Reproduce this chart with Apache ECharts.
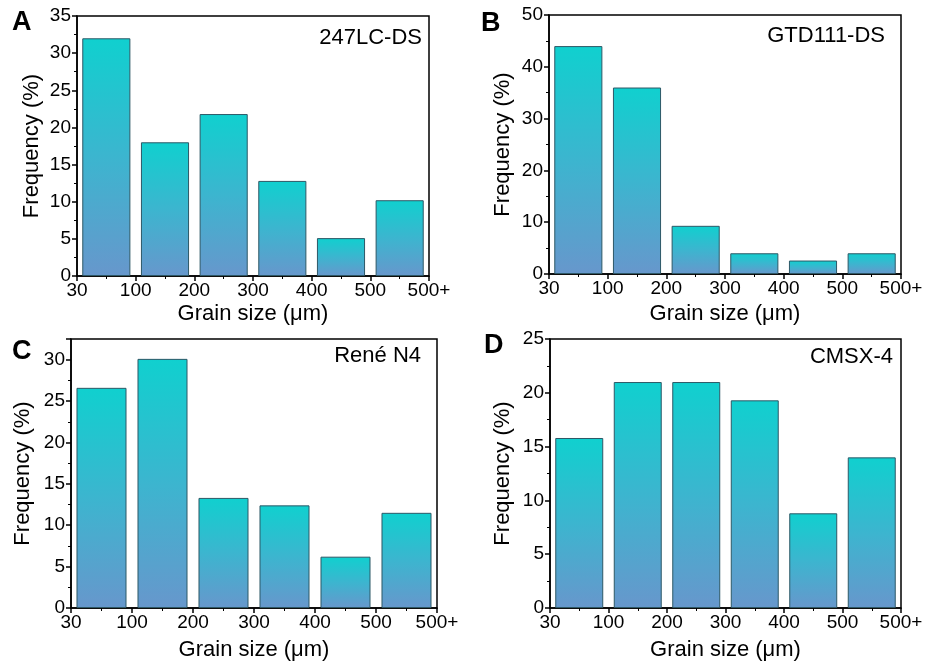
<!DOCTYPE html>
<html>
<head>
<meta charset="utf-8">
<script src="https://cdn.jsdelivr.net/npm/echarts@6/dist/echarts.min.js"></script>
<style>
  html, body { margin: 0; padding: 0; background: #fff; }
  #chart { width: 928px; height: 668px; }
</style>
</head>
<body>
<div id="chart"></div>
<script>
// bin edges shown on the x axis (labels sit on the bar boundaries)
const binEdges = ["30", "100", "200", "300", "400", "500", "500+"];

// frequency (%) per bin
const freq247LC = [32, 18, 21.8, 12.8, 5.1, 10.2];
const freqGTD111 = [44, 36, 9.3, 4.0, 2.6, 4.0];
const freqReneN4 = [26.6, 30.1, 13.3, 12.4, 6.2, 11.5];
const freqCMSX4 = [15.8, 21, 21, 19.3, 8.8, 14];

const panelNames = ["247LC-DS", "GTD111-DS", "René N4", "CMSX-4"];
const panelLetters = ["A", "B", "C", "D"];
const yMax = [35, 50, 32.5, 25];
const yStep = [5, 10, 5, 5];

const FONT = "Liberation Sans";

const chart = echarts.init(document.getElementById("chart"));

const grids = [
  { left: 77, top: 16, width: 352, height: 260 },
  { left: 549, top: 15, width: 352, height: 259 },
  { left: 71, top: 339, width: 366, height: 269 },
  { left: 550, top: 339, width: 351, height: 269 },
];
const yNameGap = [34, 35, 37, 36];
const xNameGap = [27, 29, 31, 31];

const barFill = new echarts.graphic.LinearGradient(0, 0, 0, 1, [
  { offset: 0, color: "#10d0cf" },
  { offset: 0.5, color: "#3cb5cf" },
  { offset: 1, color: "#6797cc" },
]);

let xAxis = [], yAxis = [], series = [];
const allFreq = [freq247LC, freqGTD111, freqReneN4, freqCMSX4];

grids.forEach((g, i) => {
  g.show = true;
  g.borderColor = "#000";
  g.borderWidth = 1.5;
  g.containLabel = false;

  xAxis.push({
    gridIndex: i,
    type: "value",
    min: 0,
    max: 6,
    interval: 1,
    name: "Grain size (μm)",
    nameLocation: "middle",
    nameGap: xNameGap[i],
    nameTextStyle: { fontFamily: FONT, fontSize: 22, color: "#000" },
    axisLine: { show: true, lineStyle: { color: "#000", width: 1.5 } },
    axisTick: { show: true, inside: false, length: 5, lineStyle: { color: "#000", width: 1.5 } },
    minorTick: { show: true, splitNumber: 2, length: 3, lineStyle: { color: "#000", width: 1 } },
    splitLine: { show: false },
    axisLabel: {
      fontFamily: FONT,
      fontSize: 19,
      color: "#000",
      margin: 5,
      formatter: (v) => binEdges[Math.round(v)],
    },
  });

  yAxis.push({
    gridIndex: i,
    type: "value",
    min: 0,
    max: yMax[i],
    interval: yStep[i],
    name: "Frequency (%)",
    nameLocation: "middle",
    nameGap: yNameGap[i],
    nameTextStyle: { fontFamily: FONT, fontSize: 22, color: "#000" },
    axisLine: { show: true, lineStyle: { color: "#000", width: 1.5 } },
    axisTick: { show: true, inside: false, length: 5, lineStyle: { color: "#000", width: 1.5 } },
    minorTick: { show: true, splitNumber: 2, length: 3, lineStyle: { color: "#000", width: 1 } },
    splitLine: { show: false },
    axisLabel: {
      fontFamily: FONT,
      fontSize: 19,
      color: "#000",
      margin: 6,
      formatter: (v) => (v % yStep[i] === 0 ? String(v) : ""),
    },
  });

  series.push({
    type: "bar",
    xAxisIndex: i,
    yAxisIndex: i,
    barWidth: "82%",
    itemStyle: { color: barFill, borderColor: "#2d5866", borderWidth: 1 },
    data: allFreq[i].map((v, k) => [k + 0.5, v]),
  });
});

const titles = [
  { text: panelLetters[0], left: 12, top: 9 },
  { text: panelLetters[1], left: 481, top: 10 },
  { text: panelLetters[2], left: 12, top: 338 },
  { text: panelLetters[3], left: 484, top: 332 },
].map((t) => ({
  ...t,
  textStyle: { fontFamily: FONT, fontSize: 27, fontWeight: "bold", color: "#000" },
  padding: 0,
}));

const tags = [
  { text: panelNames[0], right: 506, top: 27 },
  { text: panelNames[1], right: 43, top: 25 },
  { text: panelNames[2], right: 507, top: 345 },
  { text: panelNames[3], right: 35, top: 346 },
].map((t) => ({
  ...t,
  textStyle: { fontFamily: FONT, fontSize: 22, fontWeight: "normal", color: "#000" },
  padding: 0,
}));

chart.setOption({
  backgroundColor: "#fff",
  animation: false,
  title: titles.concat(tags),
  grid: grids,
  xAxis: xAxis,
  yAxis: yAxis,
  series: series,
});
</script>
</body>
</html>
